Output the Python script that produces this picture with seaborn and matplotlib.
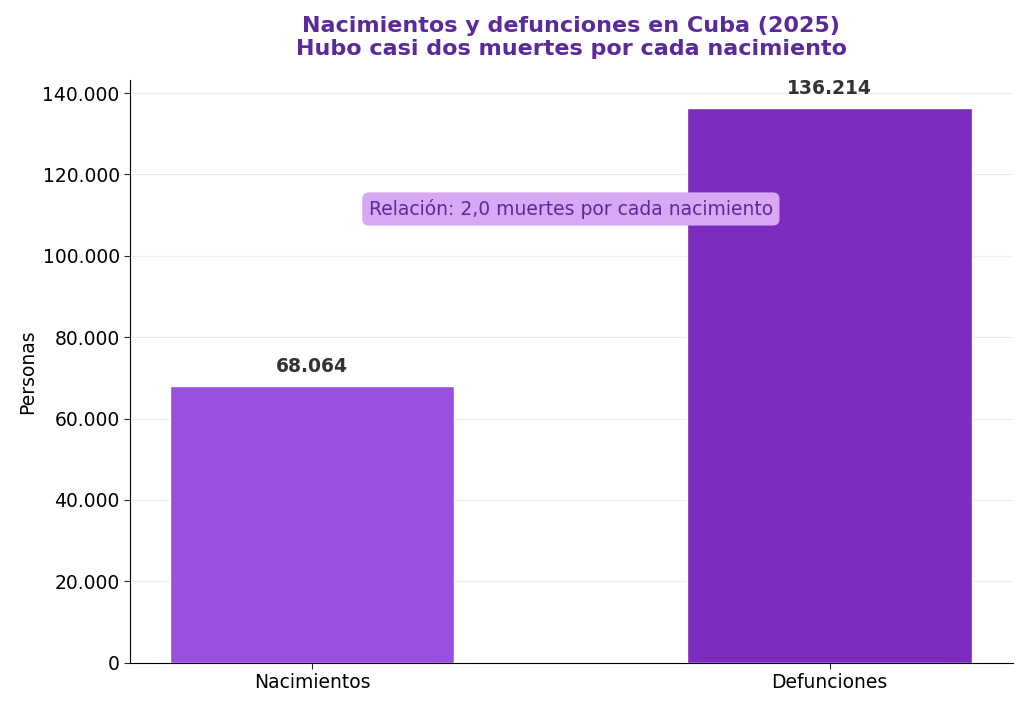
import matplotlib
matplotlib.use('Agg')
import matplotlib.pyplot as plt
import seaborn as sns
import pandas as pd
from matplotlib.ticker import FuncFormatter

df = pd.DataFrame({
    'Tipo': ['Nacimientos', 'Defunciones'],
    'Personas': [68064, 136214]
})

sns.set_style('white')
plt.rcParams['font.family'] = ['DejaVu Sans']

fig, ax = plt.subplots(figsize=(10.24, 7.08), dpi=100)
sns.barplot(data=df, x='Tipo', y='Personas', hue='Tipo', saturation=1,
            palette=['#9b4fdf', '#7b2bbd'], width=0.55, legend=False, ax=ax, zorder=3)

fmt = lambda v: f'{int(v):,}'.replace(',', '.')
for i, v in enumerate(df['Personas']):
    ax.text(i, v + 2500, fmt(v), ha='center', va='bottom',
            fontsize=13.5, fontweight='bold', color='#333333')

ax.text(0.5, 111500, 'Relación: 2,0 muertes por cada nacimiento', ha='center', va='center',
        fontsize=13.5, color='#5b2a9a',
        bbox=dict(boxstyle='round,pad=0.35', fc='#d9a8f5', ec='none'), zorder=5)

ax.set_ylim(0, 143200)
ax.set_xlim(-0.352, 1.354)
ax.yaxis.set_major_formatter(FuncFormatter(lambda v, p: fmt(v)))
ax.grid(axis='y', color='#eeeeee', zorder=0)
ax.set_xlabel('')
ax.set_ylabel('Personas', fontsize=13.5, color='black')
ax.tick_params(axis='both', labelsize=13.5, length=4, left=True, bottom=True, labelcolor='black')
for s in ['left', 'bottom']:
    ax.spines[s].set_color('black')
sns.despine(ax=ax)
ax.set_title('Nacimientos y defunciones en Cuba (2025)\nHubo casi dos muertes por cada nacimiento',
             fontsize=16, fontweight='bold', color='#5b2a9a', pad=18)

plt.subplots_adjust(left=0.127, right=0.989, top=0.887, bottom=0.064)
plt.savefig('out.png', dpi=100)
